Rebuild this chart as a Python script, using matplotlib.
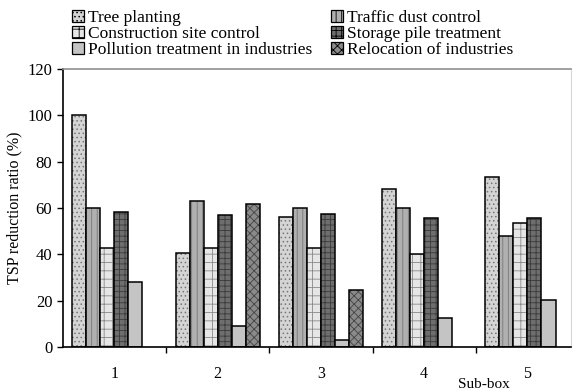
import numpy as np
import matplotlib as mpl
mpl.use("Agg")
import matplotlib.pyplot as plt

mpl.rcParams["font.family"] = ["Liberation Serif", "DejaVu Serif"]
mpl.rcParams["hatch.linewidth"] = 0.6

sub_boxes = ["1", "2", "3", "4", "5"]
measures = ["Tree planting", "Traffic dust control", "Construction site control",
            "Storage pile treatment", "Pollution treatment in industries",
            "Relocation of industries"]
tree_planting = [100, 40.6, 56.2, 68.0, 73.4]
traffic_dust = [60.0, 62.8, 59.9, 59.9, 47.8]
construction = [42.9, 42.9, 42.9, 40.0, 53.6]
storage_pile = [58.3, 56.9, 57.2, 55.7, 55.7]
pollution_ind = [28.1, 8.9, 2.9, 12.3, 20.2]
relocation = [0, 61.5, 24.5, 0, 0]
series = [tree_planting, traffic_dust, construction, storage_pile, pollution_ind, relocation]

faces = ["#d4d4d4", "#b0b0b0", "#e6e6e6", "#6e6e6e", "#c4c4c4", "#8a8a8a"]
hatches = ["....", "|||", "++", "+++", "", "xxxx"]
hcols = ["#777777", "#777777", "#888888", "#3a3a3a", "#c4c4c4", "#444444"]

fig = plt.figure(figsize=(5.76, 3.92), dpi=100)
ax = fig.add_axes([0.109, 0.115, 0.882, 0.709])

x = np.arange(len(sub_boxes))
w = 0.136
for i, (vals, lab) in enumerate(zip(series, measures)):
    pos = x + (i - 2.5) * w
    v = np.array(vals, float)
    keep = v > 0
    # hatch layer, then black outline on top
    ax.bar(pos[keep], v[keep], w, facecolor=faces[i], edgecolor=hcols[i],
           hatch=hatches[i], linewidth=0)
    ax.bar(pos[keep], v[keep], w, facecolor="none", edgecolor="black", linewidth=1.1)

ax.set_xlim(-0.5, 4.42)
ax.set_ylim(0, 120)
ax.set_yticks(np.arange(0, 121, 20))
ax.set_xticks(np.arange(0.5, 4.0, 1.0))
ax.set_xticklabels([])
ax.set_xticks(x, minor=True)
ax.set_xticklabels(sub_boxes, minor=True, fontsize=11.5)
ax.tick_params(axis="x", which="minor", length=0, pad=14)
ax.tick_params(axis="x", which="major", length=4, direction="out", width=1)
ax.tick_params(axis="y", direction="out", length=4, labelsize=12, width=1)
ax.set_ylabel("TSP reduction ratio (%)", fontsize=11.5)
fig.text(0.84, 0.018, "Sub-box", ha="center", va="center", fontsize=11)

for s in ["left", "bottom"]:
    ax.spines[s].set_linewidth(1.2)
ax.spines["top"].set_color("#909090")
ax.spines["top"].set_linewidth(1.2)
ax.spines["right"].set_color("#d8d8d8")

# legend proxies: patterned fill with a black square outline
handles = [mpl.patches.Patch(facecolor=faces[i], edgecolor="black", hatch=hatches[i],
                             linewidth=0.9) for i in range(len(measures))]
order = [0, 2, 4, 1, 3, 5]
fig.legend([handles[k] for k in order], [measures[k] for k in order], ncol=2,
           loc="upper left", bbox_to_anchor=(0.107, 1.002),
           frameon=False, fontsize=12.5, handlelength=0.7, handleheight=0.7,
           handletextpad=0.2, columnspacing=1.1, labelspacing=0.0,
           borderaxespad=0.2)

fig.savefig("out.png", dpi=100)
